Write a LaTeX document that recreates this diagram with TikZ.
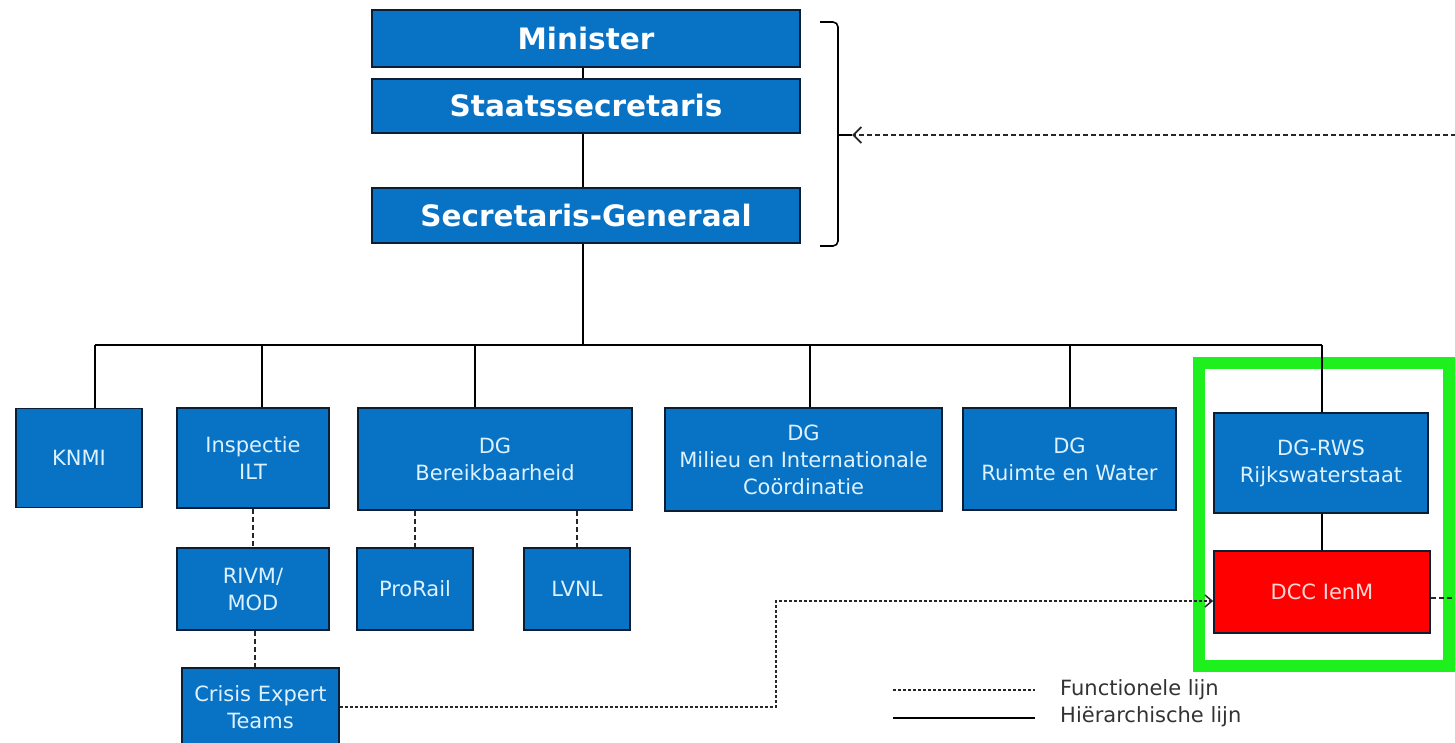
\documentclass[tikz,border=0pt]{standalone}
\usepackage{fontspec}
\setmainfont{DejaVu Sans}
\usetikzlibrary{arrows.meta,calc}
\definecolor{bfill}{HTML}{0872C4}
\definecolor{bdraw}{HTML}{0B1E33}
\definecolor{btext}{HTML}{DDF1FF}
\definecolor{rfill}{HTML}{FF0000}
\definecolor{rtext}{HTML}{FFD6D6}
\definecolor{gframe}{HTML}{1EF01E}
\definecolor{legtext}{HTML}{333333}
\begin{document}
\begin{tikzpicture}[x=1pt,y=-1pt,
  box/.style={draw=bdraw, line width=1.8pt, fill=bfill, text=btext, inner sep=0pt, align=center, anchor=center,
    font=\fontsize{21}{27}\selectfont},
  topbox/.style={box, font=\fontsize{29.5}{32}\selectfont\bfseries, text=white},
  redbox/.style={box, fill=rfill, text=rtext},
  hline/.style={draw=black, line width=1.6pt},
  fline/.style={draw=black!85, line width=1.8pt, dash pattern=on 5pt off 3pt},
  fthin/.style={draw=black!85, line width=1.5pt, dash pattern=on 3pt off 2pt},
]
\useasboundingbox[fill=white] (0,0) rectangle (1455,743);

% top level
\node[topbox, minimum width=428, minimum height=57] (min) at (586,38.5) {Minister};
\node[topbox, minimum width=428, minimum height=54] (sts) at (586,106) {Staatssecretaris};
\node[topbox, minimum width=428, minimum height=55] (sg) at (586,215.5) {Secretaris-Generaal};

% second row
\node[box, minimum width=126, minimum height=99] (knmi) at (79,458) {KNMI};
\node[box, minimum width=152, minimum height=100] (ilt) at (253,458) {Inspectie\\ILT};
\node[box, minimum width=274, minimum height=102] (ber) at (495,459) {DG\\Bereikbaarheid};
\node[box, minimum width=277, minimum height=103] (mil) at (803.5,459.5) {DG\\Milieu en Internationale\\Coördinatie};
\node[box, minimum width=213, minimum height=102] (rui) at (1069.5,459) {DG\\Ruimte en Water};
\node[box, minimum width=214, minimum height=100] (rws) at (1321,463) {DG-RWS\\Rijkswaterstaat};

% third row
\node[box, minimum width=152, minimum height=82] (rivm) at (253,589) {RIVM/\\MOD};
\node[box, minimum width=116, minimum height=82] (pro) at (415,589) {ProRail};
\node[box, minimum width=106, minimum height=82] (lvnl) at (577,589) {LVNL};
\node[redbox, minimum width=216, minimum height=82] (dcc) at (1322,592) {DCC IenM};
\node[box, minimum width=157, minimum height=78] (cet) at (260.5,707) {Crisis Expert\\Teams};

% green highlight frame
\draw[gframe, line width=12pt] (1199,363) rectangle (1449,666);

% hierarchy lines
\coordinate (bus) at (583,345);
\draw[hline] ([xshift=-3pt]min.south) -- ([xshift=-3pt]sts.north);
\draw[hline] ([xshift=-3pt]sts.south) -- ([xshift=-3pt]sg.north);
\draw[hline] ([xshift=-3pt]sg.south) -- (bus);
\coordinate (dk) at ([xshift=16pt]knmi.north);
\coordinate (di) at ([xshift=9pt]ilt.north);
\coordinate (db) at ([xshift=-20pt]ber.north);
\coordinate (dm) at ([xshift=6.5pt]mil.north);
\coordinate (dr) at ([xshift=0.5pt]rui.north);
\coordinate (dw) at ([xshift=1pt]rws.north);
\draw[hline] (dk |- bus) -- (dw |- bus);
\foreach \n in {dk,di,db,dm,dr,dw} \draw[hline] (\n) -- (\n |- bus);
\draw[hline] (dw |- rws.south) -- (dw |- dcc.north);

% functional lines
\draw[fline] (ilt.south) -- (rivm.north);
\draw[fline] ([xshift=2pt]rivm.south) -- ([xshift=2pt]rivm.south |- cet.north);
\draw[fline] (pro.north |- ber.south) -- (pro.north);
\draw[fline] (lvnl.north |- ber.south) -- (lvnl.north);
\coordinate (bend) at (776,601);
\draw[fthin, -{Straight Barb[length=7pt,width=12pt]}] (cet.east) -| (bend) -- ([yshift=-9pt]dcc.west);
\coordinate (dccout) at (1456,598);
\draw[fline] ([yshift=-6pt]dcc.east) -- (dccout);

% bracket and incoming arrow
\draw[hline, rounded corners=5pt] (820,22) -- (838,22) -- (838,246) -- (820,246);
\coordinate (brk) at (838,135);
\coordinate (brkt) at (852,135);
\coordinate (farright) at (1456,135);
\draw[hline] (brk) -- (brkt);
\draw[fline, -{Straight Barb[length=8pt,width=16pt]}] (farright) -- (brkt);

% legend
\coordinate (la1) at (893,690); \coordinate (la2) at (1035,690);
\coordinate (lb1) at (893,718); \coordinate (lb2) at (1035,718);
\draw[fthin] (la1) -- (la2);
\draw[hline] (lb1) -- (lb2);
\node[anchor=west, text=legtext, font=\fontsize{21}{25}\selectfont, inner sep=0pt] (lf) at (1060,690) {Functionele lijn};
\node[anchor=west, text=legtext, font=\fontsize{21}{25}\selectfont, inner sep=0pt] (lh) at (1060,717) {Hiërarchische lijn};
\end{tikzpicture}
\end{document}
